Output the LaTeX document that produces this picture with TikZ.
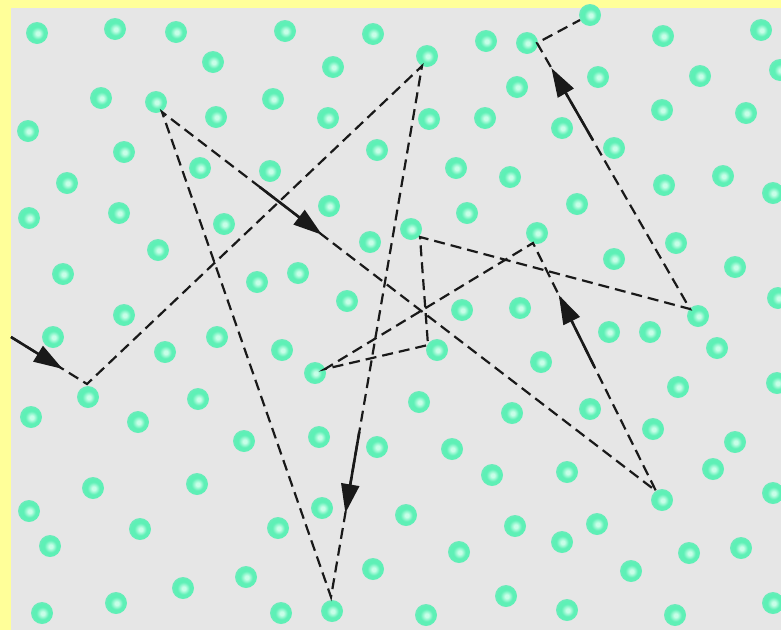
\documentclass[tikz,border=0pt]{standalone}
\usepackage{tikz}
\usetikzlibrary{arrows.meta, calc}

\definecolor{frameyellow}{RGB}{255,255,153}
\definecolor{boxgrey}{RGB}{230,230,230}
\definecolor{molHi}{RGB}{200,254,232}
\definecolor{molBody}{RGB}{94,240,182}
\definecolor{molEdge}{RGB}{112,234,188}
\definecolor{pathgrey}{RGB}{25,25,25}

\pgfdeclareradialshading{molecule}{\pgfpoint{2bp}{-1bp}}{%
  color(0bp)=(molHi); color(4bp)=(molHi); color(14bp)=(molBody);
  color(22bp)=(molBody); color(25bp)=(molEdge); color(30bp)=(molEdge)}

\begin{document}
\begin{tikzpicture}[
    x=1pt, y=-1pt,
    molecule/.style={circle, minimum size=22pt, inner sep=0pt, shading=molecule},
    walk/.style={draw=pathgrey, line width=2.2pt, dash pattern=on 11pt off 6pt},
    kick/.style={draw=pathgrey, line width=2.6pt, -{Triangle[length=29pt, width=18pt]}}]

    % Define frame
    \useasboundingbox (0,0) rectangle (781,630);
    \fill[frameyellow] (0,0) rectangle (781,630);
    \fill[boxgrey] (11,8) rectangle (781,630);

    % Define molecules
    \foreach \x/\y [count=\i] in {
        37/33, 115/29, 176/32, 213/62, 285/31, 373/34, 333/67, 427/56, 486/41,
        527/43, 590/15, 663/36, 761/30,
        101/98, 156/102, 216/117, 273/99, 328/118, 429/119, 485/118, 517/87,
        598/77, 700/76, 780/70,
        28/131, 124/152, 377/150, 456/168, 510/177, 562/128, 614/148, 662/110,
        746/113,
        67/183, 200/168, 270/171, 29/218, 119/213, 224/224, 329/206, 467/213,
        577/204, 664/185, 723/176, 773/193,
        158/250, 257/282, 298/273, 370/242, 411/229, 537/233, 614/259, 676/243,
        735/267,
        63/274, 124/315, 217/337, 347/301, 462/310, 520/308, 609/332, 650/332,
        698/316, 778/298,
        53/337, 165/352, 282/350, 315/373, 437/350, 541/362, 717/348,
        88/397, 198/399, 419/402, 512/413, 590/409, 678/387, 777/383,
        31/417, 138/422, 244/441, 319/437, 377/447, 452/449, 653/429, 735/442,
        93/488, 197/484, 492/475, 567/472, 662/500, 713/469, 773/493,
        29/511, 140/529, 278/528, 322/508, 406/515, 515/526, 597/524,
        50/546, 459/552, 562/542, 689/553, 741/548,
        183/588, 246/577, 373/569, 631/571,
        42/613, 116/603, 281/613, 332/611, 426/615, 506/596, 567/610, 675/615,
        773/603}
        \node[molecule] (m\i) at (\x,\y) {};

    % Define collisions
    \coordinate (s) at (11,337);
    \coordinate (c1) at (87,384);
    \coordinate (c2) at (422,66);
    \coordinate (c3) at (331,597);
    \coordinate (c4) at (162,112);
    \coordinate (c5) at (656,491);
    \coordinate (c6) at (533,243);
    \coordinate (c7) at (325,369);
    \coordinate (c8) at (428,345);
    \coordinate (c9) at (420,237);
    \coordinate (c10) at (690,309);
    \coordinate (c11) at (537,43);
    \coordinate (c12) at (580,20);

    % Draw free paths
    \draw[walk] (s) -- (c1) -- (c2) -- (c3) -- (c4) -- (c5) -- (c6) -- (c7)
        -- (c8) -- (c9) -- (c10) -- (c11) -- (c12);

    % Draw direction arrows
    \draw[kick] (s) -- ($(s)!0.68!(c1)$);
    \draw[kick] ($(c2)!0.689!(c3)$) -- ($(c2)!0.842!(c3)$);
    \draw[kick] ($(c4)!0.198!(c5)$) -- ($(c4)!0.324!(c5)$);
    \draw[kick] ($(c5)!0.5!(c6)$) -- ($(c5)!0.79!(c6)$);
    \draw[kick] ($(c10)!0.635!(c11)$) -- ($(c10)!0.906!(c11)$);
\end{tikzpicture}
\end{document}
